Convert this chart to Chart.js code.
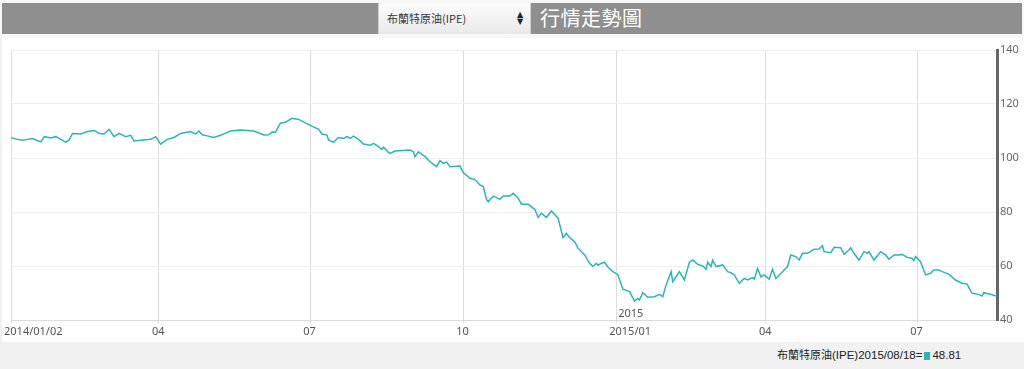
<!DOCTYPE html>
<html>
<head>
<meta charset="utf-8">
<script src="https://cdn.jsdelivr.net/npm/chart.js@4"></script>
<style>
html,body{margin:0;padding:0;}
body{width:1024px;height:369px;background:#f0f1f0;position:relative;overflow:hidden;font-family:"Liberation Sans","Noto Sans CJK TC",sans-serif;}
#topgap{position:absolute;left:0;top:0;width:1024px;height:38px;background:#f7f7f7;}
#bar{position:absolute;left:2px;top:3px;width:1020px;height:31px;background:#8f8f8f;}
#sel{position:absolute;left:378px;top:3px;width:153px;height:31px;background:linear-gradient(#fcfcfc,#e9e9e9);border-left:1px solid #cfcfcf;border-right:1px solid #cfcfcf;box-sizing:border-box;}
#sel .t{position:absolute;left:8px;top:9px;font:11px "Noto Sans CJK TC","Liberation Sans",sans-serif;color:#333;line-height:13px;}
#sel .a{position:absolute;left:138px;top:8px;font:8px "DejaVu Sans",sans-serif;color:#222;line-height:7px;}
#title{position:absolute;left:540px;top:4px;font:20px "Noto Sans CJK TC",sans-serif;color:#fff;line-height:28px;letter-spacing:0.5px;}
#wrap{position:absolute;left:2px;top:38px;width:1022px;height:304px;background:#fff;}
#legend{position:absolute;left:777px;top:347px;font:11.5px "Liberation Sans","Noto Sans CJK TC",sans-serif;color:#222;line-height:16px;white-space:nowrap;}
#legend .cn{font-size:11px;}
#legend .sq{display:inline-block;width:6px;height:8px;background:#2bb5b5;margin:0 2px 0 2px;vertical-align:-1px;}
</style>
</head>
<body>
<div id="topgap"></div>
<div id="bar"></div>
<div id="sel"><span class="t">布蘭特原油(IPE)</span><span class="a">▲<br>▼</span></div>
<div id="title">行情走勢圖</div>
<div id="wrap"><canvas id="c" width="1022" height="304"></canvas></div>
<div id="legend"><span class="cn">布蘭特原油</span>(IPE)2015/08/18=<span class="sq"></span>48.81</div>
<script>
// days since 2014/01/02
const days = [0,4,7,10,13,16,18,20,24,27,30,33,35,37,42,46,50,53,56,59,62,65,69,72,74,78,84,87,90,94,98,102,108,111,113,115,118,122,126,132,138,146,152,155,157,159,162,165,169,173,177,181,185,187,190,191,194,197,200,202,204,206,209,212,216,218,221,223,224,227,228,231,240,242,243,245,249,252,256,258,260,262,264,270,272,276,279,282,284,286,287,290,292,294,296,300,302,305,307,311,315,317,319,322,325,329,332,334,336,339,341,345,348,350,352,353,355,357,359,362,365,368,372,375,377,378,380,383,387,390,392,394,397,398,402,405,408,410,413,416,418,419,421,422,424,428,431,433,435,438,441,443,446,447,449,451,453,456,458,460,464,467,469,472,474,476,479,483,486,488,489,493,495,499,501,504,505,507,510,513,515,516,519,523,526,528,531,534,536,539,542,543,544,547,550,553,555,558,560,564,568,572,575,578,582,584,585,589,593];
const prices = [107.5,106.9,106.6,106.9,107.2,106.4,106.0,107.9,107.4,107.9,106.9,105.8,106.8,109.1,108.9,109.8,110.2,109.1,108.9,110.6,107.9,109.1,107.9,108.4,106.3,106.6,106.9,107.9,105.1,106.9,107.6,109.1,109.8,108.9,110.0,108.6,108.2,107.6,108.4,110.0,110.4,110.0,108.5,108.6,109.6,109.5,112.9,113.2,114.7,114.3,113.0,111.8,110.6,108.9,108.5,106.7,105.8,107.6,107.2,107.9,107.3,108.1,106.9,105.2,104.7,105.4,104.2,103.2,104.0,102.1,101.7,102.6,103.0,102.3,100.5,102.3,100.5,98.6,96.8,99.0,98.0,98.5,96.8,97.0,94.6,92.5,92.0,90.0,89.4,84.7,83.8,85.9,85.3,84.7,85.9,85.9,86.9,85.1,82.9,82.9,81.0,78.0,79.5,78.0,80.4,77.7,70.5,72.1,70.5,69.0,66.6,64.1,61.0,59.8,61.0,60.3,61.0,61.4,59.6,57.9,56.8,51.4,50.5,47.0,48.0,47.4,50.1,48.4,48.6,49.5,48.6,53.0,57.9,54.2,57.9,54.8,61.4,62.2,60.6,60.0,58.8,61.4,59.8,62.2,59.8,60.4,57.9,57.5,56.7,53.6,55.4,54.8,55.7,55.1,59.1,56.0,56.7,55.1,58.8,55.4,57.9,59.8,64.1,63.5,62.2,64.7,64.7,66.2,66.3,67.5,65.3,64.9,66.9,66.8,64.3,65.9,66.8,64.7,62.2,65.3,64.7,65.3,62.2,65.3,64.1,62.5,64.1,64.1,64.3,63.2,62.8,62.0,63.5,61.6,56.7,57.3,58.5,58.5,57.9,57.0,54.8,53.6,53.3,49.9,49.5,48.9,50.1,49.5,48.81];
const tickDays = [0,89,180,272,364,454,545];
const tickLabels = ['2014/01/02','04','07','10','2015/01','04','07'];
const yearMarkDay = 364;
const yearMarkLabel = '2015';
const yTicks = [40,60,80,100,120,140];

const points = days.map((d,i)=>({x:d,y:prices[i]}));

const xLabelPlugin = {
  id:'xlabels',
  afterDraw(chart){
    const ctx = chart.ctx, xs = chart.scales.x, area = chart.chartArea;
    ctx.save();
    ctx.font = '11px "Noto Sans", "Open Sans", sans-serif';
    ctx.fillStyle = '#555';
    ctx.textAlign = 'left';
    ctx.textBaseline = 'middle';
    tickDays.forEach((d,i)=>{
      ctx.fillText(tickLabels[i], xs.getPixelForValue(d) - 7, area.bottom + 12);
    });
    ctx.fillText(yearMarkLabel, xs.getPixelForValue(yearMarkDay) + 2, area.bottom - 6);
    ctx.restore();
  }
};

new Chart(document.getElementById('c'), {
  type:'line',
  data:{datasets:[{data:points,borderColor:'#2bb5b5',borderWidth:1.5,pointRadius:0,tension:0,fill:false}]},
  options:{
    responsive:false,animation:false,
    layout:{padding:{left:9,top:12,right:0,bottom:0}},
    plugins:{legend:{display:false},tooltip:{enabled:false}},
    scales:{
      x:{type:'linear',min:0,max:593,
        afterBuildTicks(s){s.ticks = tickDays.map(v=>({value:v}));},
        afterFit(s){s.height = 22;},
        ticks:{display:false},
        grid:{color:'#dcdcdc',tickLength:3,drawTicks:true},
        border:{color:'#dcdcdc',width:1}
      },
      y:{position:'right',min:40,max:140,
        afterBuildTicks(s){s.ticks = yTicks.map(v=>({value:v}));},
        afterFit(s){s.width = 27;},
        ticks:{color:'#666',padding:3,font:{family:'"Noto Sans", sans-serif',size:11}},
        grid:{color:'#eeeeee',drawTicks:false},
        border:{color:'#666',width:3}
      }
    }
  },
  plugins:[xLabelPlugin]
});
</script>
</body>
</html>
